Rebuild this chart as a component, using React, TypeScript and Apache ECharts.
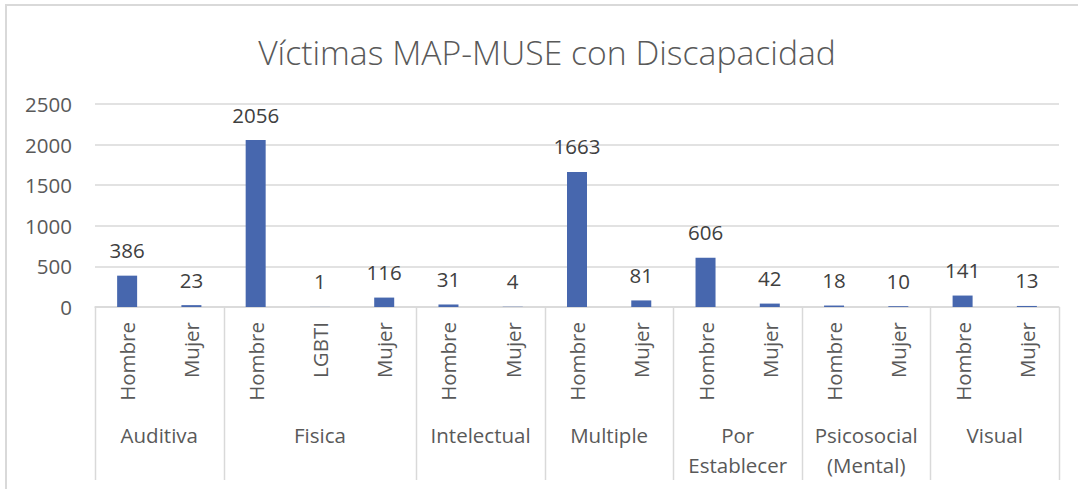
import React, { useEffect, useRef } from "react";
import * as echarts from "echarts";

const titleText = "Víctimas MAP-MUSE con Discapacidad";
const groups = ["Auditiva", "Fisica", "Intelectual", "Multiple", "Por\nEstablecer", "Psicosocial\n(Mental)", "Visual"];
const subLabels = [
  ["Hombre", "Mujer"],
  ["Hombre", "LGBTI", "Mujer"],
  ["Hombre", "Mujer"],
  ["Hombre", "Mujer"],
  ["Hombre", "Mujer"],
  ["Hombre", "Mujer"],
  ["Hombre", "Mujer"],
];
const groupValues = [
  [386, 23],
  [2056, 1, 116],
  [31, 4],
  [1663, 81],
  [606, 42],
  [18, 10],
  [141, 13],
];
const yTicks = { min: 0, max: 2500, interval: 500 };

const FONT = "'Open Sans', 'Noto Sans', sans-serif";
const TEXT = "#595959";
const LINE = "#d9d9d9";
const FS = 20.5;

export default function App() {
  const ref = useRef<HTMLDivElement>(null);
  useEffect(() => {
    if (!ref.current) return;
    const chart = echarts.init(ref.current, null, { renderer: "svg" });
    const leafLabels: string[] = [];
    const leafValues: number[] = [];
    subLabels.forEach((subs, g) => {
      subs.forEach((s, i) => {
        leafLabels.push(s);
        leafValues.push(groupValues[g][i]);
      });
    });
    const gridTop = 104;
    const gridBottomY = 307;
    chart.setOption({
      animation: false,
      textStyle: { fontFamily: FONT },
      grid: { left: 95, right: 19, top: gridTop, bottom: 489 - gridBottomY },
      xAxis: {
        type: "category",
        data: leafLabels,
        axisLine: { lineStyle: { color: LINE, width: 1.5 } },
        axisTick: { show: false },
        axisLabel: {
          rotate: 90,
          margin: 15,
          fontSize: FS,
          color: TEXT,
          fontFamily: FONT,
          interval: 0,
        },
      },
      yAxis: {
        type: "value",
        min: yTicks.min,
        max: yTicks.max,
        interval: yTicks.interval,
        axisLine: { show: false },
        axisTick: { show: false },
        splitLine: { lineStyle: { color: LINE, width: 1.5 } },
        axisLabel: {
          fontSize: FS,
          color: TEXT,
          margin: 23,
          fontFamily: FONT,
          formatter: (v: number) => String(v),
        },
      },
      series: [
        {
          type: "bar",
          data: leafValues,
          barWidth: 20,
          itemStyle: { color: "#4767ae" },
          label: {
            show: true,
            position: "top",
            distance: 15,
            fontSize: FS,
            color: "#404040",
            fontFamily: FONT,
          },
        },
      ],
    });

    const px = (i: number) => chart.convertToPixel({ xAxisIndex: 0 }, i) as number;
    const w = px(1) - px(0);
    const boundary = (b: number) => (b < leafLabels.length ? px(b) - w / 2 : px(leafLabels.length - 1) + w / 2);
    const elements: any[] = [
      {
        type: "rect",
        shape: { x: 6, y: 5, width: 1200, height: 600 },
        style: { fill: "none", stroke: LINE, lineWidth: 2 },
        silent: true,
      },
      {
        type: "text",
        x: 547,
        y: 52,
        style: {
          text: titleText,
          fontSize: 33.7,
          fontWeight: 300,
          fontFamily: FONT,
          fill: TEXT,
          align: "center",
          verticalAlign: "middle",
        },
      },
    ];
    let start = 0;
    const bounds = [0];
    subLabels.forEach((subs) => {
      start += subs.length;
      bounds.push(start);
    });
    bounds.forEach((b) => {
      const x = Math.round(boundary(b)) + 0.5;
      elements.push({
        type: "line",
        shape: { x1: x, y1: gridBottomY, x2: x, y2: 480 },
        style: { stroke: LINE, lineWidth: 1.5 },
        silent: true,
      });
    });
    groups.forEach((g, k) => {
      const cx = (boundary(bounds[k]) + boundary(bounds[k + 1])) / 2;
      elements.push({
        type: "text",
        x: cx,
        y: 420,
        style: {
          text: g,
          fontSize: FS,
          lineHeight: 30,
          fontFamily: FONT,
          fill: TEXT,
          align: "center",
          verticalAlign: "top",
        },
      });
    });
    chart.setOption({ graphic: elements });
    return () => chart.dispose();
  }, []);
  return (
    <div
      ref={ref}
      style={{ position: "fixed", left: 0, top: 0, width: 1078, height: 489, background: "#fff" }}
    />
  );
}
